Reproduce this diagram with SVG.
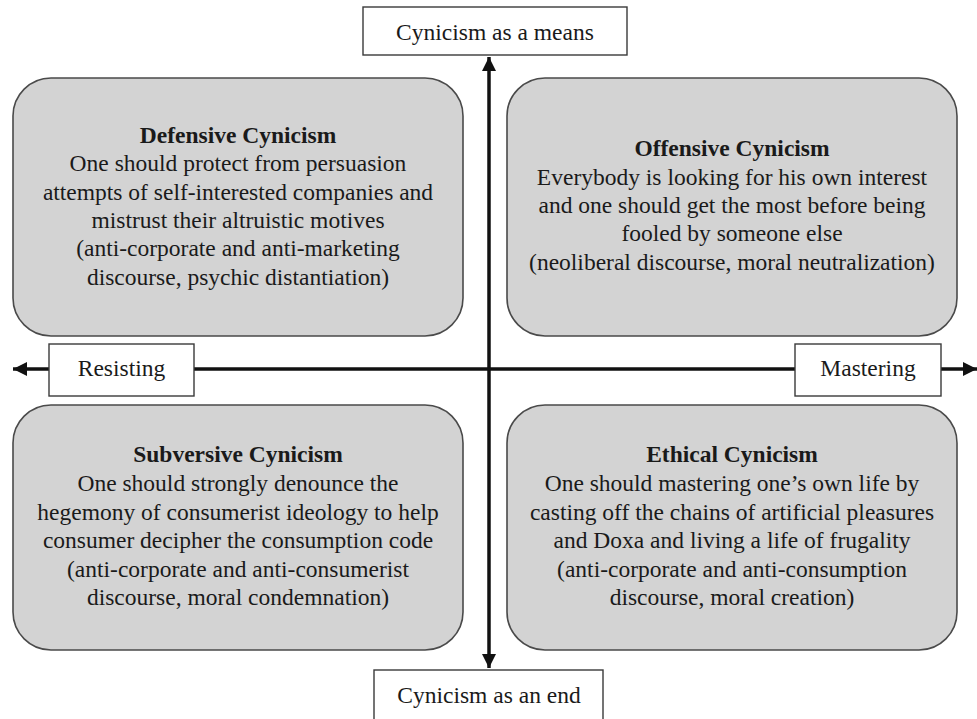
<svg xmlns="http://www.w3.org/2000/svg" width="977" height="719" viewBox="0 0 977 719">
<style>
  text { font-family: "Liberation Serif", "Times New Roman", serif; font-size: 23.5px; fill: #1a1a1a; text-anchor: middle; }
  .title { font-weight: bold; }
  .quad { fill: #d3d3d3; stroke: #4a4a4a; stroke-width: 1.6; }
  .label { fill: #ffffff; stroke: #3a3a3a; stroke-width: 1.4; }
  .axis { stroke: #111111; stroke-width: 3.5; fill: none; }
</style>
<defs>
  <marker id="arrow" viewBox="0 0 10 10" refX="10" refY="5" markerWidth="4.2" markerHeight="4" markerUnits="strokeWidth" orient="auto">
    <path d="M0,0 L10,5 L0,10 Z" fill="#111111"/>
  </marker>
</defs>
<rect width="977" height="719" fill="#ffffff"/>

<g id="connectors">
  <line class="axis" x1="489" y1="368" x2="489" y2="57" marker-end="url(#arrow)"/>
  <line class="axis" x1="489" y1="368" x2="489" y2="668" marker-end="url(#arrow)"/>
  <line class="axis" x1="489" y1="369" x2="13" y2="369" marker-end="url(#arrow)"/>
  <line class="axis" x1="489" y1="369" x2="977" y2="369" marker-end="url(#arrow)"/>
</g>

<g id="defensive">
  <rect class="quad" x="13" y="78" width="450" height="258" rx="38" ry="38"/>
  <text class="title" x="238" y="143">Defensive Cynicism</text>
  <text x="238" y="171">One should protect from persuasion</text>
  <text x="238" y="200">attempts of self-interested companies and</text>
  <text x="238" y="228">mistrust their altruistic motives</text>
  <text x="238" y="256">(anti-corporate and anti-marketing</text>
  <text x="238" y="285">discourse, psychic distantiation)</text>
</g>

<g id="offensive">
  <rect class="quad" x="507" y="78" width="450" height="258" rx="38" ry="38"/>
  <text class="title" x="732" y="156">Offensive Cynicism</text>
  <text x="732" y="185">Everybody is looking for his own interest</text>
  <text x="732" y="213">and one should get the most before being</text>
  <text x="732" y="241">fooled by someone else</text>
  <text x="732" y="270">(neoliberal discourse, moral neutralization)</text>
</g>

<g id="subversive">
  <rect class="quad" x="13" y="405" width="450" height="245" rx="38" ry="38"/>
  <text class="title" x="238" y="462">Subversive Cynicism</text>
  <text x="238" y="491">One should strongly denounce the</text>
  <text x="238" y="520">hegemony of consumerist ideology to help</text>
  <text x="238" y="548">consumer decipher the consumption code</text>
  <text x="238" y="577">(anti-corporate and anti-consumerist</text>
  <text x="238" y="605">discourse, moral condemnation)</text>
</g>

<g id="ethical">
  <rect class="quad" x="507" y="405" width="450" height="245" rx="38" ry="38"/>
  <text class="title" x="732" y="462">Ethical Cynicism</text>
  <text x="732" y="491">One should mastering one’s own life by</text>
  <text x="732" y="520">casting off the chains of artificial pleasures</text>
  <text x="732" y="548">and Doxa and living a life of frugality</text>
  <text x="732" y="577">(anti-corporate and anti-consumption</text>
  <text x="732" y="605">discourse, moral creation)</text>
</g>

<g id="means">
  <rect class="label" x="363" y="7" width="264" height="48"/>
  <text x="495" y="40">Cynicism as a means</text>
</g>

<g id="end">
  <rect class="label" x="374" y="670" width="229" height="60"/>
  <text x="489" y="703">Cynicism as an end</text>
</g>

<g id="resisting">
  <rect class="label" x="49" y="344" width="145" height="52"/>
  <text x="121.5" y="376">Resisting</text>
</g>

<g id="mastering">
  <rect class="label" x="795" y="344" width="146" height="52"/>
  <text x="868" y="376">Mastering</text>
</g>
</svg>
